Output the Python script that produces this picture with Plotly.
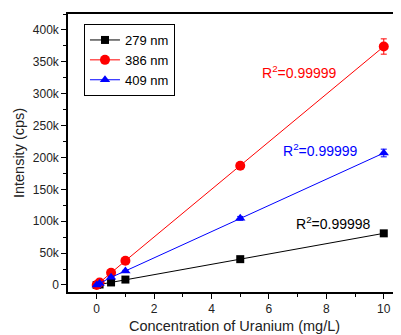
import plotly.graph_objects as go

conc = [0, 0.1, 0.5, 1, 5, 10]
i279 = [0, 800, 4000, 8500, 40500, 81000]
i386 = [0, 4000, 19000, 38000, 187000, 374000]
i409 = [0, 2500, 12000, 22000, 104500, 207000]
e279 = [0, 300, 500, 600, 1000, 1500]
e386 = [0, 500, 1500, 1500, 5000, 12000]
e409 = [0, 400, 1000, 1000, 3000, 6000]
names = ["279 nm", "386 nm", "409 nm"]
r2 = ["0.99998", "0.99999", "0.99999"]
yticks = [0, 50000, 100000, 150000, 200000, 250000, 300000, 350000, 400000]
yticktext = ["0", "50k", "100k", "150k", "200k", "250k", "300k", "350k", "400k"]

colors = ["black", "red", "blue"]
symbols = ["square", "circle", "triangle-up"]
sizes = [8, 10, 9]

fig = go.Figure()
for n, y, e, c, s, sz in zip(names, [i279, i386, i409], [e279, e386, e409], colors, symbols, sizes):
    fig.add_trace(go.Scatter(
        x=conc, y=y, name=n, mode="lines+markers",
        line=dict(color=c, width=1),
        marker=dict(color=c, symbol=s, size=sz),
        error_y=dict(type="data", array=e, color=c, thickness=1, width=3),
    ))

ann_xy = [(8.25, 97000), (7.05, 334000), (7.8, 212000)]
for (ax, ay), c, v in zip(ann_xy, colors, r2):
    fig.add_annotation(x=ax, y=ay, text="R<sup>2</sup>=" + v, showarrow=False,
                       font=dict(color=c, size=14, family="Liberation Sans, Arial"))

# page body has an 8px margin: shrink figure and margins to keep plot area in place
fig.update_layout(
    width=393, height=327,
    margin=dict(l=60, r=0, t=6, b=43, autoexpand=False),
    plot_bgcolor="white", paper_bgcolor="white",
    font=dict(family="Liberation Sans, Arial", size=12, color="#222"),
    showlegend=True,
    legend=dict(x=0.048, y=0.964, xanchor="left", yanchor="top",
                bordercolor="black", borderwidth=1, bgcolor="white",
                font=dict(size=13, color="black"), tracegroupgap=0,
                itemwidth=30),
    xaxis=dict(range=[-1, 10.6], tickvals=[0, 2, 4, 6, 8, 10],
               showline=True, linecolor="black", linewidth=1.5, mirror=True,
               ticks="outside", ticklen=5, tickcolor="black", showgrid=False, zeroline=False,
               minor=dict(tickvals=[1, 3, 5, 7, 9], ticks="outside", ticklen=3, tickcolor="black"),
               title=dict(text="Concentration of Uranium (mg/L)", font=dict(size=14.5), standoff=6)),
    yaxis=dict(range=[-11000, 425000], tickvals=yticks, ticktext=yticktext,
               showline=True, linecolor="black", linewidth=1.5,
               ticks="outside", ticklen=5, tickcolor="black", showgrid=False, zeroline=False,
               minor=dict(tickvals=[25000, 75000, 125000, 175000, 225000, 275000, 325000, 375000, 425000],
                          ticks="outside", ticklen=3, tickcolor="black"),
               title=dict(text="Intensity (cps)", font=dict(size=14.5), standoff=5)),
)
fig.write_html("out.html")
